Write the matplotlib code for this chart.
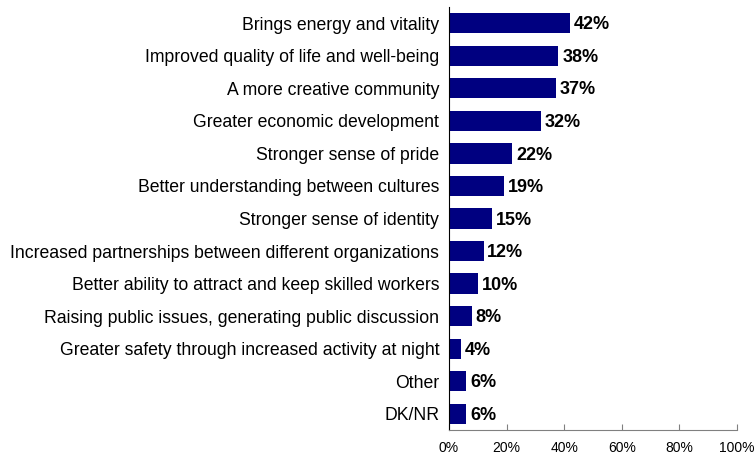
import matplotlib
matplotlib.use("Agg")
import matplotlib.pyplot as plt

plt.rcParams["font.family"] = ["Liberation Sans", "DejaVu Sans"]

categories = [
    "Brings energy and vitality",
    "Improved quality of life and well-being",
    "A more creative community",
    "Greater economic development",
    "Stronger sense of pride",
    "Better understanding between cultures",
    "Stronger sense of identity",
    "Increased partnerships between different organizations",
    "Better ability to attract and keep skilled workers",
    "Raising public issues, generating public discussion",
    "Greater safety through increased activity at night",
    "Other",
    "DK/NR",
]
values = [42, 38, 37, 32, 22, 19, 15, 12, 10, 8, 4, 6, 6]
xticks = [0, 20, 40, 60, 80, 100]

fig = plt.figure(figsize=(7.56, 4.57), dpi=100)
ax = fig.add_axes([449 / 756, 1 - 430 / 457, (737 - 449) / 756, (430 - 7) / 457])

y = list(range(len(categories)))
ax.barh(y, values, height=0.62, color="#000080")
for yi, v in zip(y, values):
    ax.text(v + 1.3, yi + 0.05, f"{v}%", va="center", ha="left",
            fontsize=13, fontweight="bold")

ax.set_ylim(len(categories) - 0.5, -0.5)
ax.set_xlim(0, 100)
ax.set_yticks(y)
ax.set_yticklabels(categories, fontsize=12.7)
ax.tick_params(axis="y", length=0, pad=7)
ax.set_xticks(xticks)
ax.set_xticklabels([f"{t}%" for t in xticks], fontsize=10)
ax.tick_params(axis="x", direction="in", length=4, pad=8, color="#808080")

for side in ["top", "right"]:
    ax.spines[side].set_visible(False)
ax.spines["left"].set_color("black")
ax.spines["bottom"].set_color("#808080")

fig.savefig("out.png", dpi=100)
